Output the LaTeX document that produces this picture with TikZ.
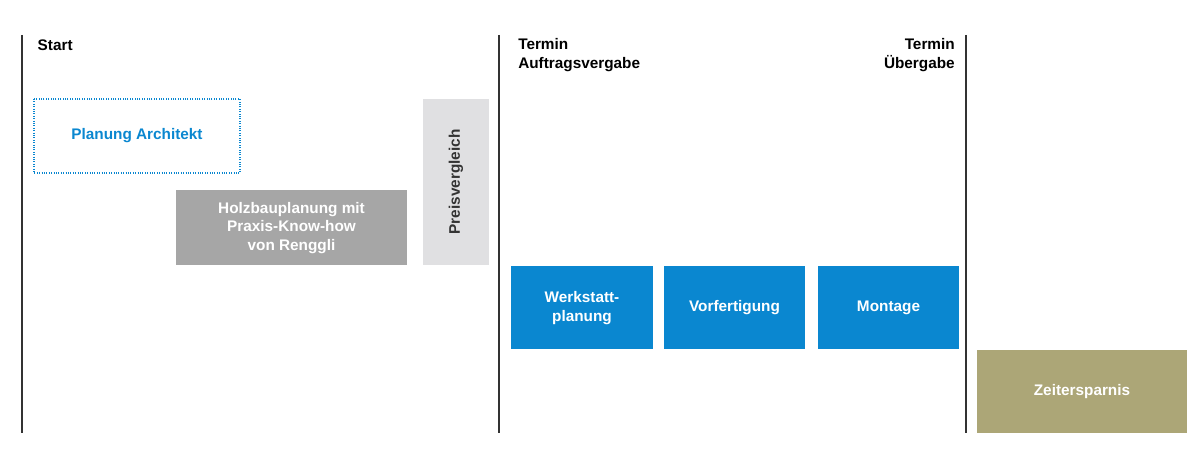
\documentclass[tikz,border=0pt]{standalone}
\usepackage{fontspec}
\setmainfont{Liberation Sans}
\begin{document}
\begin{tikzpicture}[x=0.75pt,y=-0.75pt,
  lbl/.style={font=\fontsize{11.5}{14}\selectfont\bfseries},
  box/.style={lbl,draw=none,text=white,align=center,inner sep=0},
  vline/.style={draw=black!80,line width=0.8pt}]
\definecolor{rblue}{HTML}{0A87D0}
\definecolor{rgray}{HTML}{A6A6A6}
\definecolor{rlight}{HTML}{E0E0E2}
\definecolor{rolive}{HTML}{ACA677}
\useasboundingbox (0,0) rectangle (1200,473);
\coordinate (l1t) at (22,35); \coordinate (l1b) at (22,433);
\coordinate (l2t) at (499,35); \coordinate (l2b) at (499,433);
\coordinate (l3t) at (966,35); \coordinate (l3b) at (966,433);
\draw[vline] (l1t)--(l1b); \draw[vline] (l2t)--(l2b); \draw[vline] (l3t)--(l3b);
\node[lbl,anchor=west] (start) at (33,45) {Start};
\node[lbl,anchor=north west,align=left,inner sep=0] (ta) at (518,38) {Termin\\Auftragsvergabe};
\node[lbl,anchor=north east,align=right,inner sep=0] (tu) at (955,38) {Termin\\Übergabe};
\draw[rblue,densely dotted,line width=0.8pt] (34,99) rectangle (240,173);
\node[lbl,text=rblue] (pa) at (137,136) {Planung Architekt};
\fill[rgray] (176,190) rectangle (407,265);
\node[box] (hb) at (291.5,228) {Holzbauplanung mit\\Praxis-Know-how\\von Renggli};
\fill[rlight] (423,99) rectangle (489,265);
\node[box,text=black!80,rotate=90] (pv) at (456,182) {Preisvergleich};
\fill[rblue] (511,266) rectangle (653,349);
\node[box] (wp) at (582,308) {Werkstatt-\\planung};
\fill[rblue] (664,266) rectangle (805,349);
\node[box] (vf) at (734.5,308) {Vorfertigung};
\fill[rblue] (818,266) rectangle (959,349);
\node[box] (mo) at (888.5,308) {Montage};
\fill[rolive] (977,350) rectangle (1187,433);
\node[box] (ze) at (1082,392) {Zeitersparnis};
\end{tikzpicture}
\end{document}
